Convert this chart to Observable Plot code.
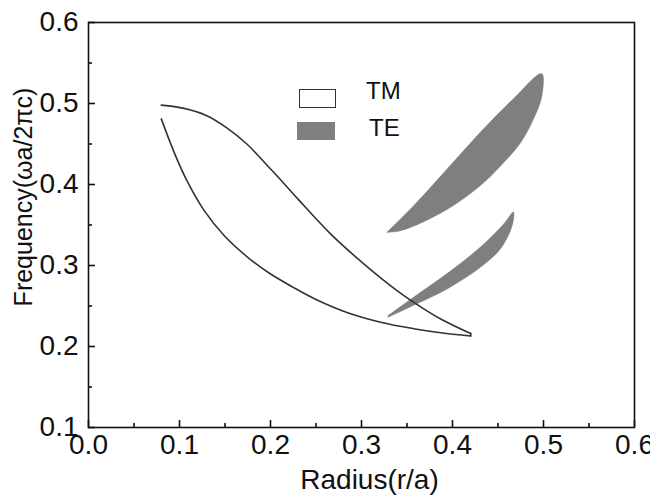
<!DOCTYPE html>
<html><head><meta charset="utf-8">
<script src="https://cdn.jsdelivr.net/npm/d3@7"></script>
<script src="https://cdn.jsdelivr.net/npm/@observablehq/plot@0.6"></script>
<style>
body{margin:0;background:#fff;}
#wrap{position:relative;width:650px;height:498px;font-family:"Liberation Sans",Arial,sans-serif;}
.box{position:absolute;box-sizing:border-box;}
.lt{position:absolute;font-size:24px;line-height:1;color:#111;}
</style></head><body><div id="wrap"></div>
<script>
const xTicks = [0, 0.1, 0.2, 0.3, 0.4, 0.5, 0.6];
const xMinor = [0.05, 0.15, 0.25, 0.35, 0.45, 0.55];
const yTicks = [0.1, 0.2, 0.3, 0.4, 0.5, 0.6];
const yMinor = [0.15, 0.25, 0.35, 0.45, 0.55];
const legendLabels = ["TM", "TE"];

// TM gap boundary: upper edge and lower edge (left -> right)
const tmUpper = [[0.080,0.498],[0.105,0.494],[0.130,0.485],[0.152,0.470],[0.174,0.450],[0.196,0.424],[0.215,0.401],[0.231,0.381],[0.266,0.339],[0.3025,0.302],[0.339,0.269],[0.365,0.249],[0.387,0.234],[0.420,0.216]];
const tmLower = [[0.080,0.481],[0.094,0.440],[0.108,0.405],[0.127,0.368],[0.149,0.337],[0.174,0.311],[0.198,0.291],[0.225,0.273],[0.250,0.258],[0.284,0.242],[0.321,0.230],[0.3575,0.222],[0.387,0.217],[0.420,0.213]];

// TE gaps: outline polygons
const te1 = [[0.328,0.341],[0.3575,0.374],[0.394,0.419],[0.431,0.465],[0.467,0.506],[0.498,0.537],[0.498,0.508],[0.489,0.481],[0.475,0.452],[0.453,0.423],[0.431,0.399],[0.401,0.374],[0.372,0.356],[0.343,0.343],[0.328,0.341]];
const te2 = [[0.329,0.238],[0.3575,0.261],[0.394,0.290],[0.431,0.323],[0.456,0.351],[0.467,0.366],[0.4655,0.349],[0.453,0.321],[0.431,0.298],[0.394,0.271],[0.3575,0.251],[0.329,0.236]];

const tmEnd = [tmUpper[tmUpper.length - 1], tmLower[tmLower.length - 1]];

const X = d => d[0], Y = d => d[1];
const plot = Plot.plot({
  width: 650, height: 498,
  marginLeft: 88, marginRight: 16, marginTop: 22, marginBottom: 71,
  style: {fontFamily: "Liberation Sans, Arial, sans-serif", background: "white", color: "#111"},
  x: {domain: [0, 0.6]},
  y: {domain: [0.1, 0.6]},
  marks: [
    Plot.line(te1, {x: X, y: Y, fill: "#7f7f7f", stroke: "#7f7f7f", strokeWidth: 0.5, curve: "catmull-rom"}),
    Plot.line(te2, {x: X, y: Y, fill: "#7f7f7f", stroke: "#7f7f7f", strokeWidth: 0.5, curve: "catmull-rom"}),
    Plot.line(tmUpper, {x: X, y: Y, stroke: "#333", strokeWidth: 1.6, curve: "catmull-rom"}),
    Plot.line(tmLower, {x: X, y: Y, stroke: "#333", strokeWidth: 1.6, curve: "catmull-rom"}),
    Plot.line(tmEnd, {x: X, y: Y, stroke: "#333", strokeWidth: 1.6}),
    Plot.frame({stroke: "#111", strokeWidth: 1.6}),
    Plot.axisX(xTicks, {tickSize: -7, tickPadding: 14, strokeWidth: 1.6, fontSize: 28, tickFormat: d => d.toFixed(1), label: null}),
    Plot.axisX(xMinor, {tickSize: -4, strokeWidth: 1.6, tickFormat: () => "", label: null}),
    Plot.axisY(yTicks, {tickSize: -7, tickPadding: 17, strokeWidth: 1.6, fontSize: 28, tickFormat: d => d.toFixed(1), label: null}),
    Plot.axisY(yMinor, {tickSize: -4, strokeWidth: 1.6, tickFormat: () => "", label: null}),
    Plot.text(["Radius(r/a)"], {frameAnchor: "bottom", dx: 8, dy: 61, fontSize: 28}),
    Plot.text(["Frequency(ωa/2πc)"], {frameAnchor: "left", textAnchor: "middle", dx: -65, dy: -28, rotate: -90, fontSize: 25})
  ]
});
const wrap = document.getElementById("wrap");
wrap.appendChild(plot);

function addBox(left, top, w, h, css) {
  const b = document.createElement("div");
  b.className = "box";
  Object.assign(b.style, {left: left + "px", top: top + "px", width: w + "px", height: h + "px"}, css);
  wrap.appendChild(b);
}
function addText(txt, left, top) {
  const t = document.createElement("div");
  t.className = "lt";
  t.textContent = txt;
  Object.assign(t.style, {left: left + "px", top: top + "px"});
  wrap.appendChild(t);
}
addBox(299, 89, 37, 19, {border: "1.6px solid #333", background: "#fff"});
addBox(297, 122, 38, 18, {background: "#7f7f7f"});
addText(legendLabels[0], 366, 79);
addText(legendLabels[1], 369, 116);
</script></body></html>
